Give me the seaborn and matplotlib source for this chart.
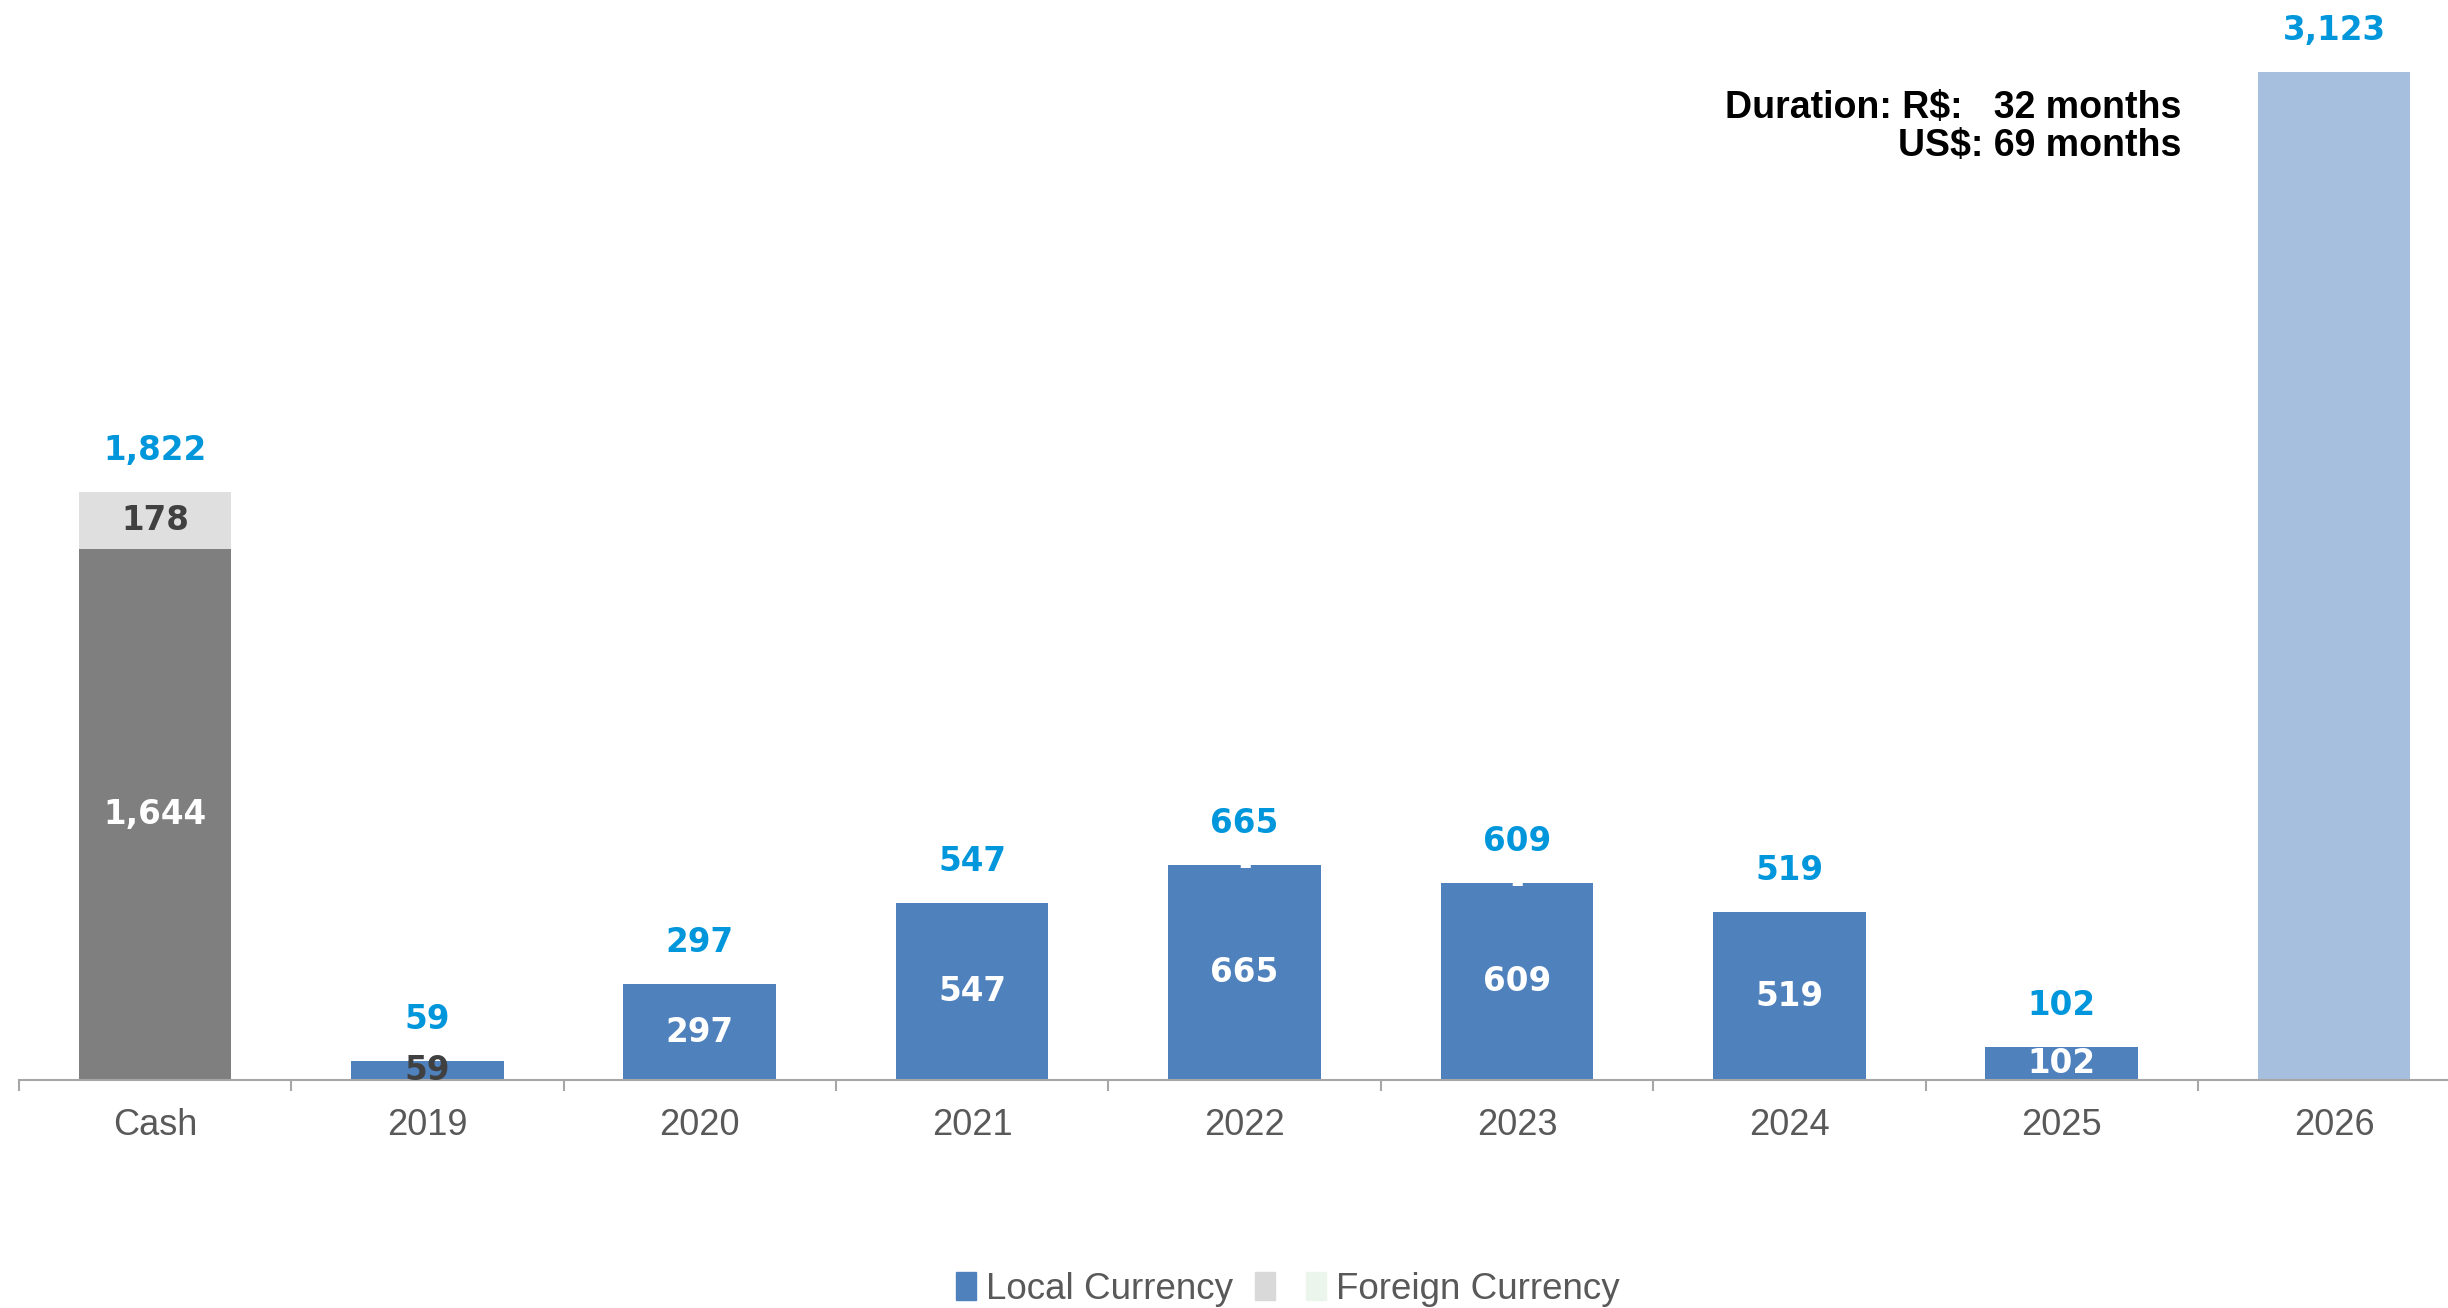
"""
Debt amortization schedule - stacked bars (local / foreign currency)
"""
import matplotlib
matplotlib.use("Agg")
import matplotlib.pyplot as plt
from matplotlib.patches import Patch
import seaborn as sns
import pandas as pd

# dados
categories = ["Cash", "2019", "2020", "2021", "2022", "2023", "2024", "2025", "2026"]
local_values = [1644, 59, 297, 547, 665, 609, 519, 102, 3123]
foreign_values = [178, 0, 0, 0, 0, 0, 0, 0, 0]
local_labels = ["1,644", "59", "297", "547", "665", "609", "519", "102", ""]
foreign_labels = ["178", "", "", "", "-", "-", "", "", ""]
legend_labels = ["Local Currency", "", "Foreign Currency"]
duration_text = "Duration: R$:   32 months\nUS$: 69 months"

# estilos
local_colors = ["#7F7F7F", "#4F81BD", "#4F81BD", "#4F81BD", "#4F81BD",
                "#4F81BD", "#4F81BD", "#4F81BD", "#A7BFDE"]
foreign_colors = ["#DFDFDF"] + ["#4F81BD"] * 8
local_label_colors = ["white", "#404040", "white", "white", "white",
                      "white", "white", "white", "white"]
foreign_label_colors = ["#404040"] + ["white"] * 8
total_color = "#0096DB"
axis_color = "#A6A6A6"
text_grey = "#595959"

sns.set_theme(style="white")
plt.rcParams["font.family"] = ["DejaVu Sans"]
narrow = ["Liberation Sans", "DejaVu Sans"]

df = pd.DataFrame({"categoria": categories, "local": local_values,
                   "foreign": foreign_values})
df["total"] = df["local"] + df["foreign"]

fig = plt.figure(figsize=(24.48, 13.08), dpi=100)
ax = fig.add_axes([18.7 / 2448, 228 / 1308, 2451.6 / 2448, 1080 / 1308])

bar_width = 0.56
sns.barplot(data=df, x="categoria", y="local", hue="categoria",
            palette=dict(zip(categories, local_colors)), legend=False,
            width=bar_width, saturation=1, ax=ax, linewidth=0)
ax.bar(range(len(categories)), df["foreign"], bottom=df["local"],
       width=bar_width, color=foreign_colors, linewidth=0)

# rótulos internos
for i, row in df.iterrows():
    if local_labels[i]:
        ax.text(i, row["local"] / 2, local_labels[i], ha="center", va="center",
                fontsize=23.5, fontweight="bold", color=local_label_colors[i])
    if foreign_labels[i]:
        ax.text(i, row["local"] + row["foreign"] / 2, foreign_labels[i],
                ha="center", va="center", fontsize=23.5, fontweight="bold",
                color=foreign_label_colors[i])
    # total acima da barra
    ax.annotate(f"{row['total']:,}", (i, row["total"]), xytext=(0, 30),
                textcoords="offset points", ha="center", va="center",
                fontsize=23.5, fontweight="bold", color=total_color)

ax.set_xlim(-0.5, len(categories) - 0.5)
ax.set_ylim(0, 3346)
ax.set_xlabel("")
ax.set_ylabel("")
ax.set_yticks([])
for side in ["top", "right", "left"]:
    ax.spines[side].set_visible(False)
ax.spines["bottom"].set_color(axis_color)
ax.spines["bottom"].set_linewidth(1.5)

ax.set_xticks(range(len(categories)))
ax.set_xticklabels(categories, family=narrow, fontsize=26, color=text_grey)
ax.set_xticks([i - 0.5 for i in range(len(categories) + 1)], minor=True)
ax.tick_params(axis="x", which="major", length=0, pad=20)
ax.tick_params(axis="x", which="minor", length=8, width=1.5,
               color=axis_color, bottom=True)

# duração
fig.text(2181 / 2448, 1 - 127 / 1308, duration_text, ha="right", va="center",
         multialignment="right", fontsize=27, fontweight="bold",
         family=["Liberation Sans", "DejaVu Sans"], color="black",
         linespacing=1.05)

# legenda
handles = [Patch(color="#4F81BD"), Patch(color="#D9D9D9"),
           Patch(color="#EBF5EB")]
leg = fig.legend(handles, legend_labels, loc="center",
                 bbox_to_anchor=(0.526, 0.0145), ncol=3, frameon=False,
                 handlelength=0.55, handleheight=0.8, handletextpad=0.25,
                 columnspacing=0.6, prop={"family": narrow, "size": 26.5})
for t in leg.get_texts():
    t.set_color(text_grey)

fig.savefig("out.png", dpi=100)
